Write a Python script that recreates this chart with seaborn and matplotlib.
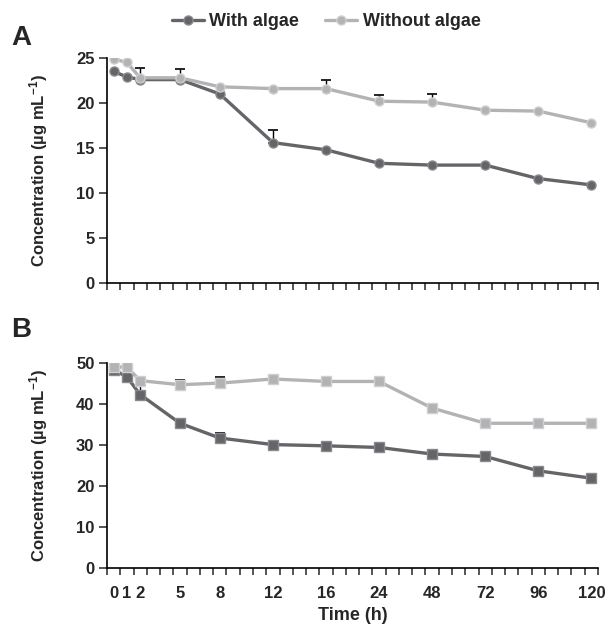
import numpy as np
import pandas as pd
import seaborn as sns
import matplotlib.pyplot as plt

# time points (h) and their slot on the category axis
hours = [0, 1, 2, 5, 8, 12, 16, 24, 48, 72, 96, 120]
axis_slot = [0, 1, 2, 5, 8, 12, 16, 20, 24, 28, 32, 36]

# panel A
a_with = [23.5, 22.9, 22.6, 22.6, 21.0, 15.6, 14.8, 13.3, 13.1, 13.1, 11.6, 10.9]
a_without = [24.9, 24.5, 22.8, 22.8, 21.8, 21.6, 21.6, 20.2, 20.1, 19.2, 19.1, 17.8]
a_with_err = [0, 0, 0, 0, 0, 1.4, 0, 0, 0, 0, 0, 0]
a_without_err = [0, 0, 1.1, 1.0, 0, 0, 1.0, 0.7, 0.85, 0, 0, 0]

# panel B
b_with = [48.4, 46.6, 42.3, 35.3, 31.7, 30.1, 29.8, 29.4, 27.8, 27.2, 23.7, 21.9]
b_without = [49.0, 49.0, 45.7, 44.7, 45.1, 46.1, 45.5, 45.5, 39.0, 35.3, 35.3, 35.3]
b_with_err = [0, 0, 2.0, 0, 1.3, 0, 0, 0, 0, 0, 0, 0]
b_without_err = [0, 0, 0, 1.2, 1.5, 0, 0, 0, 0, 0, 0, 0]

series = ["With algae", "Without algae"]
colors = {"With algae": "#656569", "Without algae": "#b3b3b5"}
edges = {"With algae": "#8a8a8e", "Without algae": "#cfcfd1"}

sns.set_style("ticks")
plt.rcParams["font.family"] = ["Liberation Sans", "DejaVu Sans"]
plt.rcParams["font.weight"] = "bold"
plt.rcParams["mathtext.fontset"] = "custom"
plt.rcParams["mathtext.rm"] = "Liberation Sans:bold"
plt.rcParams["mathtext.bf"] = "Liberation Sans:bold"
plt.rcParams["mathtext.it"] = "Liberation Sans:bold"

fig = plt.figure(figsize=(6.08, 6.30), dpi=100)
ax_a = fig.add_axes([107 / 608, 1 - 283 / 630, 491 / 608, 225 / 630])
ax_b = fig.add_axes([107 / 608, 1 - 568 / 630, 491 / 608, 205 / 630])


def draw_panel(ax, vals, errs, marker, ymax, step):
    for name in series:
        df = pd.DataFrame({"slot": axis_slot, "conc": vals[name]})
        err = np.array(errs[name])
        keep = err > 0
        ax.errorbar(np.array(axis_slot)[keep], np.array(vals[name])[keep],
                    yerr=[np.zeros(keep.sum()), err[keep]],
                    fmt="none", ecolor="black", elinewidth=1.0, capsize=3.5,
                    capthick=1.2, zorder=1)
        sns.lineplot(data=df, x="slot", y="conc", ax=ax, color=colors[name],
                     lw=2.4, marker=marker, markersize=6.5,
                     markerfacecolor=colors[name], markeredgecolor=edges[name],
                     markeredgewidth=1.0, label=name, legend=False, zorder=3)
    ax.set_xlim(-0.5, 36.5)
    ax.set_ylim(0, ymax)
    ax.set_yticks(np.arange(0, ymax + 1, step))
    ax.set_xticks(axis_slot)
    ax.set_xticks(np.arange(-0.5, 37, 1), minor=True)
    ax.tick_params(axis="x", which="major", length=0, pad=13, labelsize=12)
    ax.tick_params(axis="x", which="minor", length=5, width=1.1, direction="out")
    ax.tick_params(axis="y", length=6, width=1.1, labelsize=12, pad=3)
    for lab in ax.get_yticklabels():
        lab.set_fontweight("bold")
    ax.set_ylabel(r"Concentration (µg mL$^{-1}$)", fontsize=12,
                  fontweight="bold")
    ax.yaxis.set_label_coords(-0.116, 0.5)
    sns.despine(ax=ax)
    for sp in ["left", "bottom"]:
        ax.spines[sp].set_linewidth(1.2)
        ax.spines[sp].set_color("black")


draw_panel(ax_a, {"With algae": a_with, "Without algae": a_without},
           {"With algae": a_with_err, "Without algae": a_without_err}, "o", 25, 5)
draw_panel(ax_b, {"With algae": b_with, "Without algae": b_without},
           {"With algae": b_with_err, "Without algae": b_without_err}, "s", 50, 10)

ax_a.set_xticklabels([])
ax_a.set_xlabel("")
ax_b.set_xticklabels([str(h) for h in hours], fontweight="bold")
ax_b.set_xlabel("Time (h)", fontsize=13, fontweight="bold", labelpad=4)

fig.text(0.018, 1 - 38 / 630, "A", fontsize=20, fontweight="bold", va="center")
fig.text(0.018, 1 - 330 / 630, "B", fontsize=20, fontweight="bold", va="center")

handles, labels = ax_a.get_legend_handles_labels()
fig.legend(handles, labels, loc="center", bbox_to_anchor=(326 / 608, 1 - 22 / 630),
           ncol=2, frameon=False, handlelength=1.8, columnspacing=1.4,
           handletextpad=0.3, prop={"weight": "bold", "size": 13})

fig.savefig("out.png", dpi=100)
